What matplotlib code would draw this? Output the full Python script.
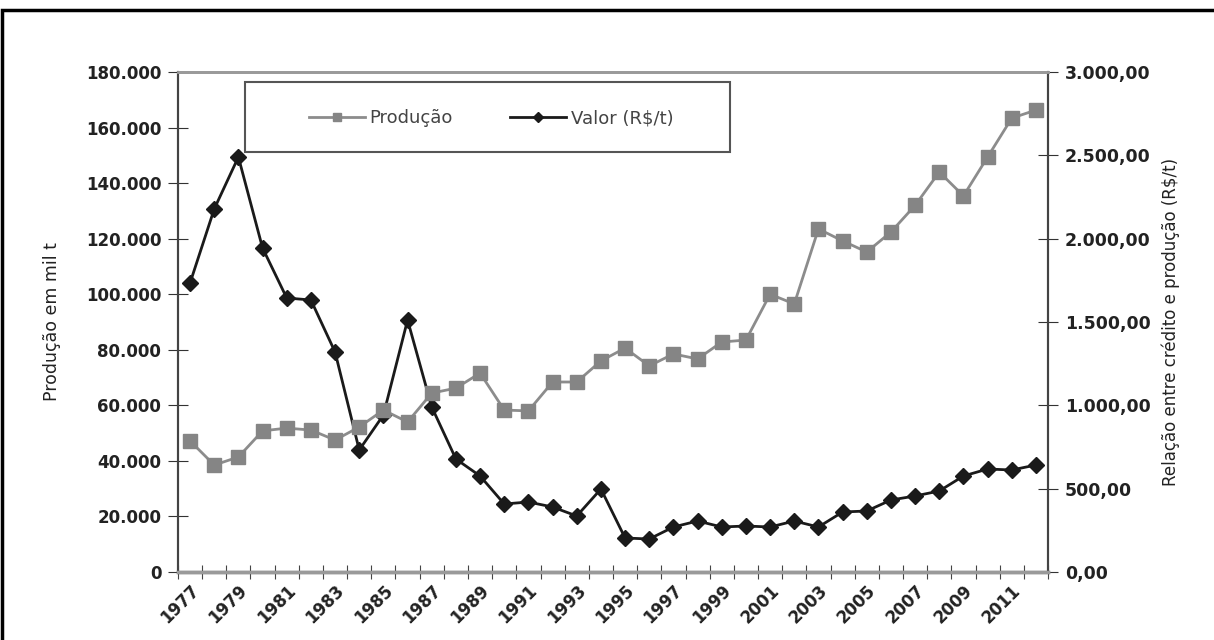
import matplotlib.pyplot as plt
from matplotlib.patches import Rectangle
from matplotlib.ticker import FuncFormatter

plt.rcParams["font.family"] = ["DejaVu Sans"]

years = list(range(1977, 2013))

producao = [
    47200, 38500, 41400, 50800, 51800, 51100, 47500, 52200, 58300, 54000,
    64400, 66200, 71600, 58300, 58000, 68400, 68400, 76000, 80600, 74200,
    78500, 76700, 82800, 83500, 100000, 96500, 123500, 119200, 115200, 122400,
    132000, 144000, 135400, 149400, 163400, 166300,
]

valor = [
    1734, 2178, 2490, 1944, 1644, 1632, 1320, 732, 942, 1512,
    990, 678, 576, 408, 420, 390, 336, 498, 204, 198,
    270, 306, 270, 276, 270, 306, 270, 360, 366, 432,
    456, 486, 576, 618, 612, 642,
]


def fmt_left(v, pos):
    return f"{int(v):,}".replace(",", ".")


def fmt_right(v, pos):
    s = f"{v:,.2f}"
    return s.replace(",", "X").replace(".", ",").replace("X", ".")


fig = plt.figure(figsize=(12.14, 6.4), dpi=100)
fig.patches.append(Rectangle((0.002, -0.1), 1.2, 1.084, transform=fig.transFigure,
                             fill=False, edgecolor="black", linewidth=2.5))

ax = fig.add_axes([0.1466, 0.10625, 0.7167, 0.78125])
ax2 = ax.twinx()
ax2.set_zorder(0)
ax.set_zorder(1)
ax.patch.set_visible(False)
ax2.patch.set_facecolor("#efefef")

x = list(range(len(years)))

l1, = ax.plot(x, producao, color="#8c8c8c", marker="s", markersize=9.5,
              markerfacecolor="#858585", markeredgecolor="#858585",
              linewidth=2, label="Produção")
ax.set_ylim(0, 180000)
ax.set_xlim(-0.5, len(years) - 0.5)
ax.set_yticks(range(0, 180001, 20000))
ax.yaxis.set_major_formatter(FuncFormatter(fmt_left))
ax.set_ylabel("Produção em mil t", fontsize=12.5, labelpad=18, color="#222222")

l2, = ax2.plot(x, valor, color="#1a1a1a", marker="D", markersize=8,
               linewidth=2, label="Valor (R$/t)")
ax2.set_ylim(0, 3000)
ax2.set_yticks(range(0, 3001, 500))
ax2.yaxis.set_major_formatter(FuncFormatter(fmt_right))
ax2.set_ylabel("Relação entre crédito e produção (R$/t)", fontsize=12, labelpad=8,
               color="#222222")

# category-style x axis: ticks between categories, label every other year
ax.set_xticks([i - 0.5 for i in range(len(years) + 1)])
ax.set_xticklabels([])
ax.set_xticks(x[::2], minor=True)
ax.set_xticklabels([str(y) for y in years[::2]], minor=True, rotation=45,
                   ha="right", va="top", rotation_mode="anchor",
                   fontsize=12, fontweight="bold", color="#222222")
ax.tick_params(axis="x", which="major", direction="inout", length=10, color="#444444")
ax.tick_params(axis="x", which="minor", length=0, pad=7)
ax.tick_params(axis="y", direction="inout", length=14, labelsize=12, color="#333333",
               pad=5, labelcolor="#222222")
ax2.tick_params(axis="y", direction="inout", length=14, labelsize=12.5, color="#333333",
                pad=5, labelcolor="#222222")
for lab in ax.get_yticklabels() + ax2.get_yticklabels():
    lab.set_fontweight("bold")

for a in (ax, ax2):
    a.spines["top"].set_color("#9a9a9a")
    a.spines["top"].set_linewidth(2)
    a.spines["bottom"].set_color("#9a9a9a")
    a.spines["bottom"].set_linewidth(2.5)
    a.spines["left"].set_color("#444444")
    a.spines["left"].set_linewidth(1.5)
    a.spines["right"].set_color("#444444")
    a.spines["right"].set_linewidth(1.5)

# legend box
ax.add_patch(Rectangle((0.077, 0.84), 0.5575, 0.14, transform=ax.transAxes,
                       facecolor="white", edgecolor="#555555", linewidth=1.5,
                       zorder=9))
leg = ax.legend([l1, l2], ["Produção", "Valor (R$/t)"], ncol=2,
                loc="center", bbox_to_anchor=(0.36, 0.908),
                prop={"size": 13}, frameon=False, handlelength=3.1,
                handletextpad=0.25, columnspacing=3.2, markerscale=0.6)
leg.set_zorder(10)
for t in leg.get_texts():
    t.set_color("#444444")

fig.savefig("out.png", dpi=100)
